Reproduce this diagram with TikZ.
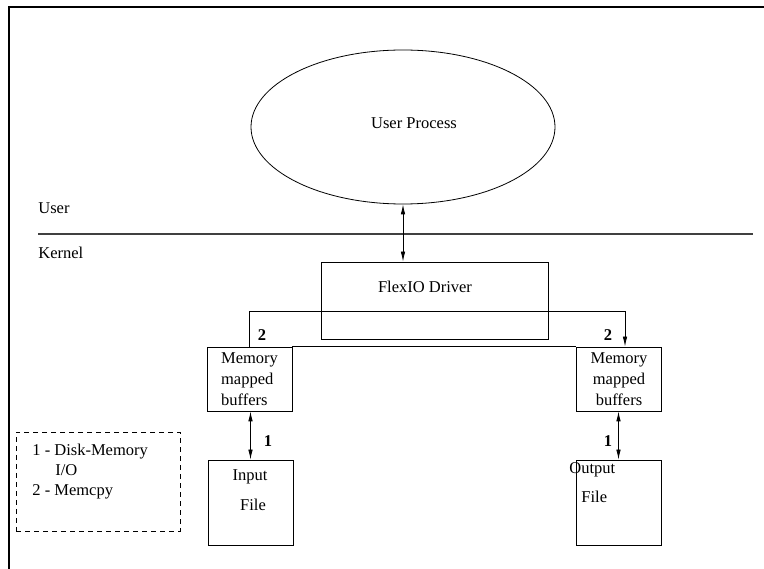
\documentclass[tikz,border=0pt]{standalone}
\usepackage{fontspec}
\setmainfont{Liberation Serif}
\usetikzlibrary{shapes.geometric,arrows.meta}

\tikzset{
  box/.style={draw,rectangle,inner sep=0pt},
  txt/.style={inner sep=0pt,font=\fontsize{16.5}{21}\selectfont},
  num/.style={inner sep=0pt,font=\fontsize{16.5}{21}\selectfont\bfseries},
  dbl/.style={<->,>={Latex[length=10pt,width=4.5pt]}},
  one/.style={->,>={Latex[length=10pt,width=4.5pt]}},
}

\begin{document}
\begin{tikzpicture}[x=1pt,y=-1pt,line width=0.8pt]
  \path[use as bounding box] (0,0) rectangle (764,569);

  % frame and user/kernel border
  \draw[line width=1.2pt] (764,7) -- (9,7) -- (9,569);
  \draw[line width=2pt,black!75] (38,234) -- (753,234);
  \node[txt,anchor=west] (user) at (38,208) {User};
  \node[txt,anchor=west] (kernel) at (38,253) {Kernel};

  \node[draw,ellipse,inner sep=0pt,minimum width=304pt,minimum height=154pt] (proc) at (403,127) {};
  \node[txt] (proclabel) at (414,123) {User Process};

  \node[box,minimum width=227pt,minimum height=77pt] (drv) at (434.5,300.5) {};
  \node[txt] (drvlabel) at (425,287) {FlexIO Driver};
  \draw[dbl] (proc.south) -- (proc.south |- drv.north);

  % buffers
  \node[box,txt,align=left,minimum width=85pt,minimum height=64pt] (bufL) at (249.5,379) {Memory\\mapped\\buffers};
  \node[box,txt,align=center,minimum width=85pt,minimum height=64pt] (bufR) at (619,379) {Memory\\mapped\\buffers};
  \draw (bufL.north east) -- (bufR.north west);
  \draw[one] (bufL.north) -- ++(0,-35) -| ([xshift=6pt]bufR.north);
  \node[num] (cpL) at (262,335) {2};
  \node[num] (cpR) at (608,335) {2};

  % files
  \node[box,minimum width=85pt,minimum height=85pt] (inF) at (250.5,502.5) {};
  \node[txt] (inlabel) at (250,477) {Input};
  \node[txt] (inlabel2) at (253,505) {File};
  \node[box,minimum width=85pt,minimum height=85pt] (outF) at (618.5,502.5) {};
  \node[txt,anchor=west] (outlabel) at (569,470) {Output};
  \node[txt,anchor=west] (outlabel2) at (581,497) {File};
  \draw[dbl] (bufL.south -| inF.north) -- (inF.north);
  \draw[dbl] (bufR.south -| outF.north) -- (outF.north);
  \node[num] (ioL) at (268,441) {1};
  \node[num] (ioR) at (608,441) {1};

  % legend
  \node[draw,dash pattern=on 5pt off 4pt,minimum width=164pt,minimum height=99pt] (legend) at (98,481.5) {};
  \node[txt,align=left,anchor=north west,font=\fontsize{16.5}{20}\selectfont] (legendtext) at (32,444) {1 - Disk-Memory\\\hspace{23pt}I/O\\2 - Memcpy};
\end{tikzpicture}
\end{document}
